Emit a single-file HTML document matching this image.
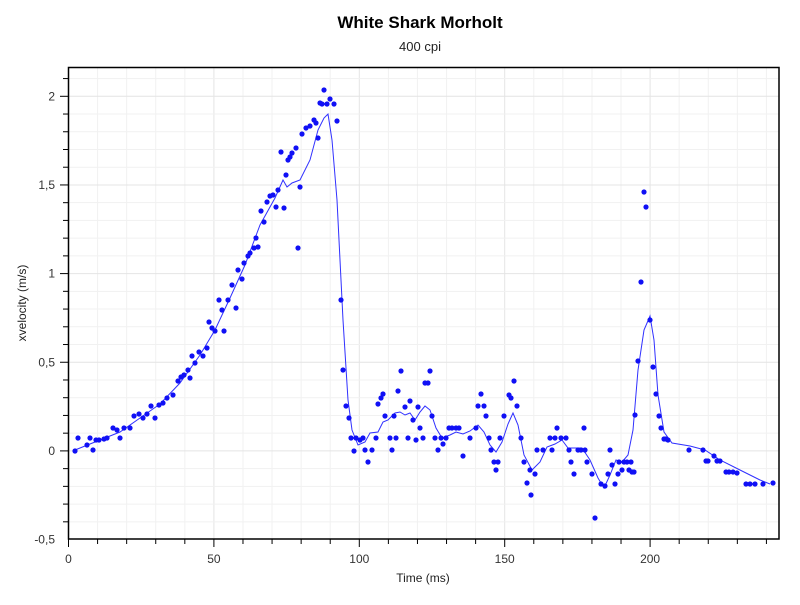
<!DOCTYPE html>
<html><head><meta charset="utf-8"><style>
body{margin:0;background:#fff;width:800px;height:600px;overflow:hidden;font-family:"Liberation Sans",sans-serif}
</style></head><body>
<svg width="800" height="600" xmlns="http://www.w3.org/2000/svg" font-family="Liberation Sans, sans-serif">
<text x="420" y="28" text-anchor="middle" font-size="17" font-weight="bold" fill="#000">White Shark Morholt</text>
<text x="420" y="51" text-anchor="middle" font-size="13" fill="#222">400 cpi</text>
<g id="grid" stroke="#ececec" stroke-width="1"></g>
<g id="ticks" stroke="#000" stroke-width="1"></g>
<g id="labels" font-size="12" fill="#333"></g>
<rect x="68.5" y="67.5" width="710.5" height="471.5" fill="none" stroke="#000" stroke-width="1.5"/>
<polyline fill="none" stroke="#3030ff" stroke-width="1" points="75,450 100,440 120,432 140,418 160,404 180,383 200,355 215,330 230,298 245,265 260,225 275,198 283,180 287,187 292,183 300,180 310,160 318,130 324,118 328,114 332,140 337,200 343,320 348,400 352,430 358,445 365,442 370,433 378,432 383,422 388,420 395,413 400,412 405,415 410,413 415,420 420,412 425,406 430,410 436,428 442,438 450,435 456,432 463,434 470,431 478,425 484,432 490,445 496,452 502,442 508,424 513,413 518,425 524,455 532,470 540,462 547,447 555,444 562,440 568,448 575,448 582,448 590,460 598,478 604,488 610,475 616,460 622,462 628,455 633,430 638,370 644,330 650,316 654,340 658,395 664,432 672,443 690,446 705,450 720,460 740,470 760,480 770,484"/>
<g id="dots" fill="#1010f5"></g>
<text x="423" y="582" text-anchor="middle" font-size="12" fill="#222">Time (ms)</text>
<text transform="translate(26,303) rotate(-90)" text-anchor="middle" font-size="12" fill="#222">xvelocity (m/s)</text>
</svg>
<script>
const NS="http://www.w3.org/2000/svg";
function el(p,t,a){const e=document.createElementNS(NS,t);for(const k in a)e.setAttribute(k,a[k]);document.getElementById(p).appendChild(e);return e;}
const X=t=>68.5+2.908*t, Y=v=>450.9-177.3*v;
for(let t=10;t<=240;t+=10){const x=X(t);el('grid','line',{x1:x,x2:x,y1:68,y2:539,stroke:t%50?'#f1f1f1':'#e4e4e4'});el('ticks','line',{x1:x,x2:x,y1:539,y2:t%50?544:547});}
el('ticks','line',{x1:X(0),x2:X(0),y1:539,y2:547});
for(let i=-4;i<=21;i++){const v=i/10,y=Y(v);if(y<68)continue;el('grid','line',{x1:69,x2:779,y1:y,y2:y,stroke:i%5?'#f1f1f1':'#e4e4e4'});el('ticks','line',{x1:i%5?63:60,x2:68,y1:y,y2:y});}
[0,50,100,150,200].forEach(t=>{el('labels','text',{x:X(t),y:563,'text-anchor':'middle'}).textContent=t;});
[[-0.5,'-0,5'],[0,'0'],[0.5,'0,5'],[1,'1'],[1.5,'1,5'],[2,'2']].forEach(([v,s])=>{el('labels','text',{x:55,y:Y(v)+4,'text-anchor':'end'}).textContent=s;});
const pts=[[75,451],[78,438],[87,445],[90,438],[93,450],[96,440],[99,440],[104,439],[107,438],[113,428],[117,430],[120,438],[124,428],[130,428],[134,416],[139,414],[143,418],[147,414],[151,406],[155,418],[159,405],[163,403],[167,398],[173,395],[178,381],[181,377],[184,375],[188,370],[190,378],[192,356],[195,363],[199,352],[203,356],[207,348],[209,322],[212,328],[215,331],[219,300],[224,331],[222,310],[228,300],[232,285],[236,308],[238,270],[242,279],[244,263],[248,256],[250,253],[254,248],[256,238],[258,247],[261,211],[264,222],[267,202],[270,196],[273,195],[276,207],[278,190],[281,152],[284,208],[286,175],[288,160],[290,157],[292,153],[296,148],[298,248],[300,187],[302,134],[306,128],[310,126],[314,120],[316,123],[318,138],[320,103],[322,104],[324,90],[327,104],[330,99],[334,104],[337,121],[341,300],[343,370],[346,406],[349,418],[351,438],[354,451],[356,438],[360,440],[363,438],[365,450],[368,462],[372,450],[376,438],[378,404],[381,398],[383,394],[385,416],[390,438],[392,450],[394,416],[396,438],[398,391],[401,371],[405,407],[408,438],[410,401],[413,420],[416,440],[418,407],[420,428],[423,438],[425,383],[428,383],[430,371],[432,416],[435,438],[438,450],[441,438],[443,444],[446,438],[449,428],[452,428],[456,428],[459,428],[463,456],[470,438],[476,428],[478,406],[481,394],[484,406],[486,416],[489,438],[491,450],[494,462],[496,470],[498,462],[500,438],[504,416],[509,395],[511,398],[514,381],[517,406],[521,438],[524,462],[527,483],[530,470],[531,495],[535,474],[537,450],[543,450],[550,438],[552,450],[555,438],[557,428],[561,438],[566,438],[569,450],[571,462],[574,474],[578,450],[581,450],[584,428],[585,450],[587,462],[592,474],[595,518],[601,484],[605,486],[608,474],[610,450],[612,465],[615,484],[618,474],[619,462],[622,470],[624,462],[627,462],[629,470],[631,462],[632,472],[634,472],[635,415],[638,361],[641,282],[644,192],[646,207],[650,320],[653,367],[656,394],[659,416],[661,428],[664,439],[666,439],[668,440],[689,450],[703,450],[706,461],[708,461],[714,456],[717,461],[720,461],[726,472],[729,472],[733,472],[737,473],[746,484],[750,484],[755,484],[763,484],[773,483]];
pts.forEach(([x,y])=>el('dots','circle',{cx:x,cy:y,r:2.6}));
</script>
</body></html>
